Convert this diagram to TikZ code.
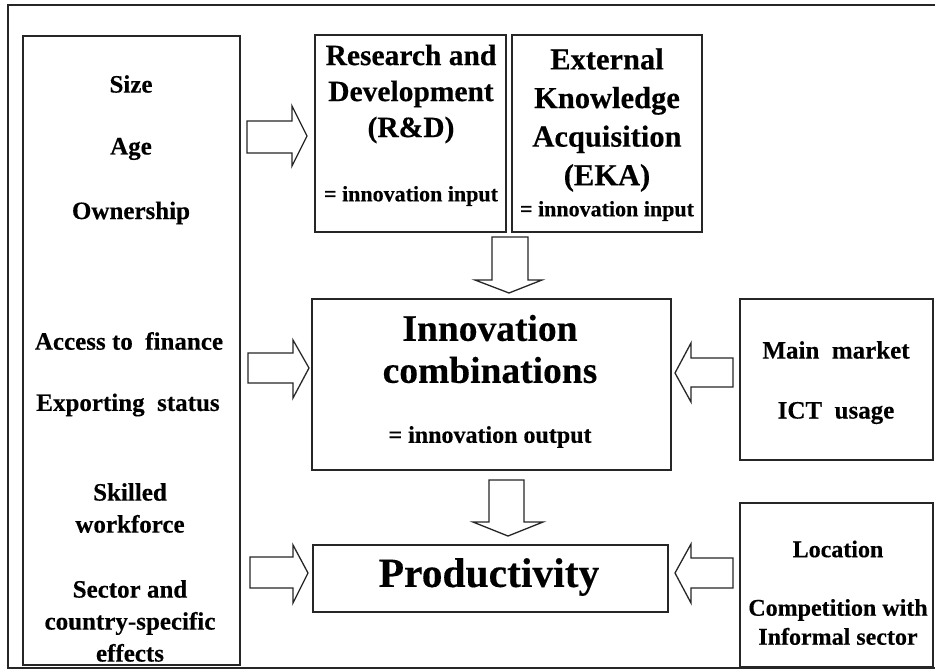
\documentclass[tikz,border=0pt]{standalone}
\usepackage{fontspec}
\setmainfont[BoldFeatures={FakeBold=0.35}]{Liberation Serif}
\begin{document}
\begin{tikzpicture}[x=1pt,y=-1pt,
  frame/.style={draw=black!85, line width=1.6pt},
  box/.style={draw=black!85, line width=1.5pt, fill=white, inner sep=0pt, outer sep=0pt, anchor=north west},
  lbl/.style={font=\bfseries\fontsize{25}{32}\selectfont, align=center, inner sep=0pt, text=black},
  blk/.style={draw=black!85, line width=1.3pt, fill=white, line join=miter}]
\useasboundingbox (0,0) rectangle (935,672);
\clip (0,0) rectangle (935,672);
\fill[white] (0,0) rectangle (935,672);

% outer frame
\draw[frame] (8,5) rectangle (950,668);

% boxes
\node[box, minimum width=217pt, minimum height=629pt] (firm) at (23,36) {};
\node[box, minimum width=191pt, minimum height=197pt] (rd) at (315,35) {};
\node[box, minimum width=190pt, minimum height=197pt] (eka) at (512,35) {};
\node[box, minimum width=359pt, minimum height=171pt] (inno) at (312,299) {};
\node[box, minimum width=355pt, minimum height=67pt] (prod) at (313,545) {};
\node[box, minimum width=193pt, minimum height=161pt] (mkt) at (740,299) {};
\node[box, minimum width=193pt, minimum height=164pt] (loc) at (740,503) {};

% firm characteristics
\node[lbl] (tsize) at (131,84) {Size};
\node[lbl] (tage) at (131,149) {Age};
\node[lbl] (town) at (131,213) {Ownership};
\node[lbl] (tfin) at (129,341) {Access to\ \ finance};
\node[lbl] (texp) at (128,405) {Exporting\ \ status};
\node[lbl] (tskill) at (130,508) {Skilled\\workforce};
\node[lbl] (tsect) at (130,621) {Sector and\\country-specific\\effects};

% innovation inputs
\node[lbl, font=\bfseries\fontsize{29.5}{36}\selectfont] (trd) at (411,94) {Research and\\Development\\(R\&D)};
\node[lbl, font=\bfseries\fontsize{22}{26}\selectfont] (trdin) at (411,196) {= innovation input};
\node[lbl, font=\bfseries\fontsize{30.5}{38.6}\selectfont] (teka) at (607,120) {External\\Knowledge\\Acquisition\\(EKA)};
\node[lbl, font=\bfseries\fontsize{22}{26}\selectfont] (tekain) at (607,211) {= innovation input};

% innovation output and productivity
\node[lbl, font=\bfseries\fontsize{37.5}{42}\selectfont] (tinno) at (490,349) {Innovation\\combinations};
\node[lbl, font=\bfseries\fontsize{24}{28}\selectfont] (tout) at (490,437) {= innovation output};
\node[lbl, font=\bfseries\fontsize{41.5}{46}\selectfont] (tprod) at (489,577) {Productivity};

% external factors
\node[lbl] (tmkt) at (836,350) {Main\ \ market};
\node[lbl] (tict) at (836,413) {ICT\ \ usage};
\node[lbl, font=\bfseries\fontsize{24}{29}\selectfont] (tloc) at (838,549) {Location};
\node[lbl, font=\bfseries\fontsize{24}{29}\selectfont] (tcomp) at (838,622) {Competition with\\Informal sector};

% right-pointing block arrows
\draw[blk] (247,121) -- (292,121) -- (292,106) -- (307,136) -- (292,166) -- (292,153) -- (247,153) -- cycle;
\draw[blk] (248,353) -- (293,353) -- (293,340) -- (309,368) -- (293,398) -- (293,383) -- (248,383) -- cycle;
\draw[blk] (250,557) -- (293,557) -- (293,545) -- (308,573) -- (293,603) -- (293,588) -- (250,588) -- cycle;

% downward block arrows
\draw[blk] (492,237) -- (492,280) -- (475,280) -- (509,293) -- (542,280) -- (528,280) -- (528,237) -- cycle;
\draw[blk] (489,480) -- (489,522) -- (473,522) -- (508,536) -- (543,522) -- (524,522) -- (524,480) -- cycle;

% left-pointing block arrows
\draw[blk] (733,358) -- (691,358) -- (691,343) -- (675,373) -- (691,402) -- (691,387) -- (733,387) -- cycle;
\draw[blk] (733,558) -- (691,558) -- (691,544) -- (675,573) -- (691,603) -- (691,588) -- (733,588) -- cycle;
\end{tikzpicture}
\end{document}
